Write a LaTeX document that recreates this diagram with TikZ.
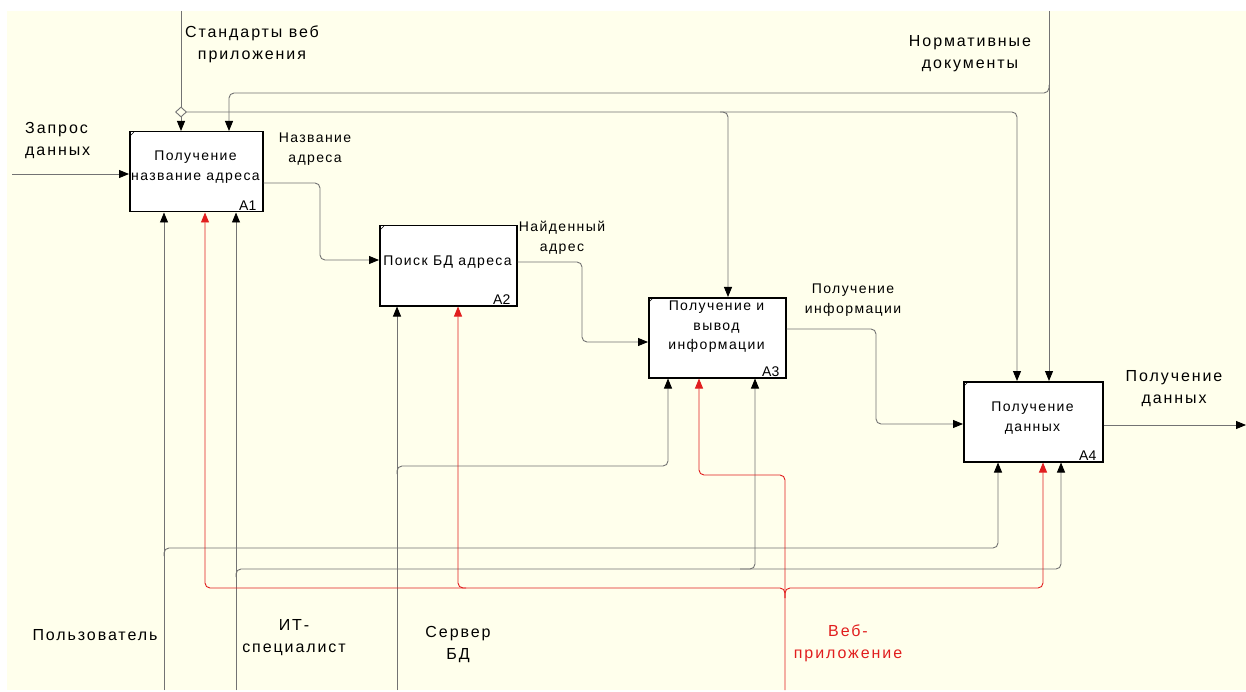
\documentclass[tikz,border=0pt]{standalone}
\usepackage{fontspec}
\setmainfont{Liberation Sans}[LetterSpace=10]
\usetikzlibrary{arrows.meta,shapes.geometric,calc}
\definecolor{bg}{RGB}{255,255,236}
\definecolor{ln}{RGB}{115,115,115}
\definecolor{rd}{RGB}{225,30,30}
\begin{document}
\begin{tikzpicture}[x=1pt,y=-1pt,
 box/.style={draw=black,line width=1.5pt,fill=white,minimum height=80pt,inner sep=0pt,anchor=north west},
 boxtext/.style={font=\fontsize{14}{19.5}\selectfont,align=center,inner sep=0pt},
 num/.style={font=\fontsize{14}{15}\selectfont\addfontfeatures{LetterSpace=0},anchor=south east,inner xsep=7pt,inner ysep=1.5pt},
 lbl/.style={font=\fontsize{16}{22}\selectfont\addfontfeatures{LetterSpace=12},align=center,inner sep=0pt},
 conn/.style={draw=ln,line width=0.9pt,rounded corners=5pt},
 arr/.style={-{Triangle[length=10pt,width=8pt,color=black]}},
 rconn/.style={draw=rd,line width=0.9pt,rounded corners=5pt},
 rarr/.style={-{Triangle[length=10pt,width=8pt,color=rd]}},
 tick/.style={draw=black,line width=0.6pt}
]
\useasboundingbox (0,0) rectangle (1246,692);
\fill[white] (0,0) rectangle (1246,692);
\fill[bg] (7,11) rectangle (1246,690);

% boxes
\node[box,minimum width=133pt] (A1) at (129,131) {};
\node[box,minimum width=137pt] (A2) at (379,225) {};
\node[box,minimum width=137pt] (A3) at (648,297) {};
\node[box,minimum width=139pt] (A4) at (963,381) {};
\foreach \b in {A1,A2,A3,A4} \draw[tick] ($(\b.north west)+(1,5)$) -- ($(\b.north west)+(5,1)$);

\node[boxtext] (A1t) at (195.5,167) {Получение\\название адреса};
\node[boxtext] (A2t) at (447.5,262) {Поиск БД адреса};
\node[boxtext] (A3t) at (716.5,327) {Получение и\\вывод\\информации};
\node[boxtext] (A4t) at (1032.5,418) {Получение\\данных};
\node[num] (A1n) at (A1.south east) {A1};
\node[num] (A2n) at (A2.south east) {A2};
\node[num] (A3n) at (A3.south east) {A3};
\node[num] (A4n) at (A4.south east) {A4};

% free ends
\coordinate (inL) at (12,174);
\coordinate (tStd) at (181,11);
\coordinate (tNorm) at (1049,11);
\coordinate (bUser) at (164,690);
\coordinate (bIT) at (236,690);
\coordinate (bSrv) at (397,690);
\coordinate (bWeb) at (785,690);
\coordinate (outR) at (1246,425);

% input
\draw[conn,arr] (inL) -- (inL -| A1.west);

% controls
\draw[conn,arr] (tStd) -- (tStd |- A1.north);
\draw[conn,arr] (181,112) -- (1017,112) -- (1017,0 |- A4.north);
\draw[conn,arr] (720,112) -- (728,112) -- (728,0 |- A3.north);
\draw[conn,arr] (tNorm) -- (tNorm |- A4.north);
\draw[conn,arr] (1049,85) -- (1049,93) -- (229,93) -- (229,0 |- A1.north);
\node[diamond,draw=ln,line width=0.9pt,fill=bg,minimum width=11pt,minimum height=10pt,inner sep=0pt] (J1) at (181,112) {};

% mechanisms
\draw[conn,arr] (bUser) -- (bUser |- A1.south);
\draw[conn,arr] (164,556) -- (164,548) -- (998,548) -- (998,0 |- A4.south);
\draw[conn,arr] (bIT) -- (bIT |- A1.south);
\draw[conn,arr] (236,577) -- (236,569) -- (1061,569) -- (1061,0 |- A4.south);
\draw[conn,arr] (740,569) -- (755,569) -- (755,0 |- A3.south);
\draw[conn,arr] (bSrv) -- (bSrv |- A2.south);
\draw[conn,arr] (397,474) -- (397,466) -- (668,466) -- (668,0 |- A3.south);

\draw[rconn,rarr] (bWeb) -- (785,475) -- (699,475) -- (699,0 |- A3.south);
\draw[rconn,rarr] (785,598) -- (785,588) -- (458,588) -- (458,0 |- A2.south);
\draw[rconn,rarr] (466,588) -- (205,588) -- (205,0 |- A1.south);
\draw[rconn,rarr] (785,598) -- (785,588) -- (1043,588) -- (1043,0 |- A4.south);

% outputs
\draw[conn,arr] (A1.east |- 0,183) -- (320,183) -- (320,260) -- (A2.west |- 0,260);
\draw[conn,arr] (A2.east |- 0,262) -- (582,262) -- (582,342) -- (A3.west |- 0,342);
\draw[conn,arr] (A3.east |- 0,329) -- (876,329) -- (876,424) -- (A4.west |- 0,424);
\draw[conn,arr] (A4.east |- outR) -- (outR);

% labels
\node[lbl,align=left,anchor=west] (Lin) at (25,141) {Запрос\\данных};
\node[lbl] (Lstd) at (252,44) {Стандарты веб\\приложения};
\node[lbl] (Lnorm) at (970,54) {Нормативные\\документы};
\node[boxtext] (L12) at (315,149) {Название\\адреса};
\node[boxtext] (L23) at (562,238) {Найденный\\адрес};
\node[boxtext] (L34) at (853,300) {Получение\\информации};
\node[lbl] (Lout) at (1174,389) {Получение\\данных};
\node[lbl] (Luser) at (95,635) {Пользователь};
\node[lbl] (Lit) at (294,638) {ИТ-\\специалист};
\node[lbl] (Lsrv) at (458,645) {Сервер\\БД};
\node[lbl,text=rd] (Lweb) at (848,643) {Веб-\\приложение};
\end{tikzpicture}
\end{document}
